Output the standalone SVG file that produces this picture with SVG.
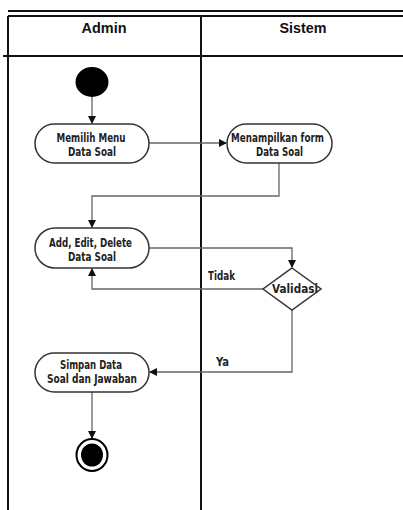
<svg xmlns="http://www.w3.org/2000/svg" width="403" height="510" viewBox="0 0 403 510">
<style>
.lane{stroke:#111;stroke-width:2;fill:none}
.box{fill:#fff;stroke:#333;stroke-width:1.5}
.conn{fill:none;stroke:#666;stroke-width:1.3}
.t{font-family:"Liberation Sans Narrow","DejaVu Sans Condensed","Liberation Sans",sans-serif;font-weight:bold;font-size:12.5px;fill:#222;text-anchor:middle}
.h{font-family:"Liberation Sans",Arial,sans-serif;font-weight:bold;font-size:15px;fill:#111;text-anchor:middle}
</style>
<defs>
<marker id="arr" markerWidth="8" markerHeight="8" refX="7" refY="4" orient="auto" markerUnits="userSpaceOnUse">
<path d="M0,0 L8,4 L0,8 Z" fill="#111"/>
</marker>
</defs>
<rect width="403" height="510" fill="#fff"/>
<g id="swimlanes">
<line class="lane" x1="8" y1="11" x2="403" y2="11"/>
<line class="lane" x1="8" y1="16" x2="403" y2="16"/>
<line class="lane" x1="8" y1="16" x2="8" y2="510"/>
<line class="lane" x1="201" y1="16" x2="201" y2="510"/>
<line class="lane" x1="3" y1="56" x2="403" y2="56"/>
<text class="h" x="104" y="33" textLength="45" lengthAdjust="spacingAndGlyphs">Admin</text>
<text class="h" x="303" y="33" textLength="47" lengthAdjust="spacingAndGlyphs">Sistem</text>
</g>
<g id="connectors">
<line class="conn" x1="92" y1="97" x2="92" y2="123" marker-end="url(#arr)"/>
<line class="conn" x1="149" y1="143" x2="226" y2="143" marker-end="url(#arr)"/>
<polyline class="conn" points="279,163 279,196 92,196 92,227" marker-end="url(#arr)"/>
<polyline class="conn" points="149,248 292,248 292,267" marker-end="url(#arr)"/>
<polyline class="conn" points="263,289 92,289 92,269" marker-end="url(#arr)"/>
<polyline class="conn" points="292,310 292,372 150,372" marker-end="url(#arr)"/>
<line class="conn" x1="92" y1="392" x2="92" y2="438" marker-end="url(#arr)"/>
<text class="t" x="221.5" y="280" textLength="27" lengthAdjust="spacingAndGlyphs">Tidak</text>
<text class="t" x="222.5" y="366" textLength="13" lengthAdjust="spacingAndGlyphs">Ya</text>
</g>
<g id="start">
<ellipse cx="92" cy="82" rx="16.5" ry="15" fill="#000"/>
</g>
<g id="memilih">
<rect class="box" x="35" y="124" width="114" height="39" rx="19.5"/>
<text class="t" x="91" y="142" textLength="69" lengthAdjust="spacingAndGlyphs">Memilih Menu</text>
<text class="t" x="92" y="156" textLength="48" lengthAdjust="spacingAndGlyphs">Data Soal</text>
</g>
<g id="menampilkan">
<rect class="box" x="227" y="124" width="105" height="39" rx="19.5"/>
<text class="t" x="277.5" y="142" textLength="93" lengthAdjust="spacingAndGlyphs">Menampilkan form</text>
<text class="t" x="279.5" y="156" textLength="47" lengthAdjust="spacingAndGlyphs">Data Soal</text>
</g>
<g id="add">
<rect class="box" x="35" y="228" width="114" height="40" rx="20"/>
<text class="t" x="90.5" y="247" textLength="83" lengthAdjust="spacingAndGlyphs">Add, Edit, Delete</text>
<text class="t" x="92" y="261" textLength="48" lengthAdjust="spacingAndGlyphs">Data Soal</text>
</g>
<g id="validasi">
<polygon class="box" points="292,268 321,289 292,310 263,289"/>
<text class="t" x="295" y="293" textLength="46" lengthAdjust="spacingAndGlyphs">Validasi</text>
</g>
<g id="simpan">
<rect class="box" x="35" y="353" width="114" height="39" rx="19.5"/>
<text class="t" x="91" y="369" textLength="62" lengthAdjust="spacingAndGlyphs">Simpan Data</text>
<text class="t" x="92" y="383" textLength="90" lengthAdjust="spacingAndGlyphs">Soal dan Jawaban</text>
</g>
<g id="end">
<ellipse cx="92" cy="455" rx="15.5" ry="16" fill="#fff" stroke="#000" stroke-width="2"/>
<ellipse cx="92" cy="455" rx="11" ry="11.5" fill="#000"/>
</g>
</svg>
